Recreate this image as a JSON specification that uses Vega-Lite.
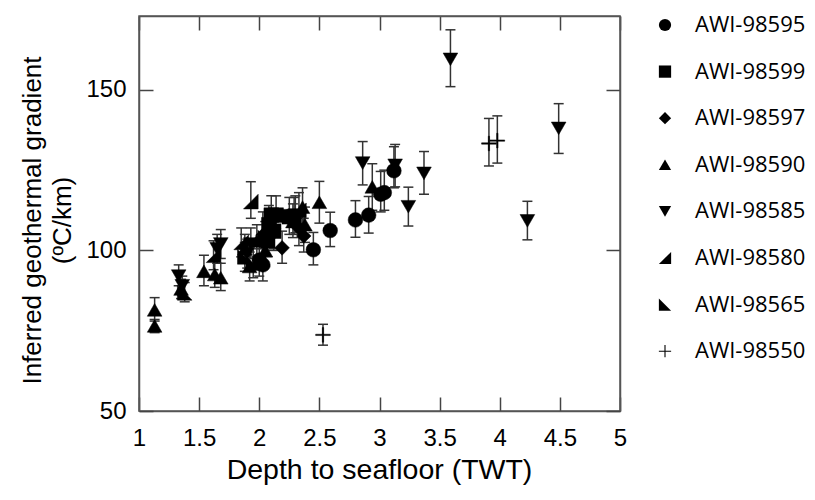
{
  "$schema": "https://vega.github.io/schema/vega-lite/v6.json",
  "width": 481,
  "height": 395,
  "autosize": {"type": "none"},
  "padding": {"left": 139, "top": 16, "right": 195, "bottom": 89},
  "background": "white",
  "config": {
    "view": {"stroke": "#555", "strokeWidth": 1.5},
    "axis": {
      "domainColor": "#555",
      "domainWidth": 1.5,
      "tickColor": "#444",
      "tickWidth": 1.5,
      "grid": false,
      "labelFont": "Liberation Sans",
      "labelFontSize": 24,
      "labelColor": "black",
      "titleFont": "Liberation Sans",
      "titleFontSize": 26,
      "titleFontWeight": "normal",
      "titleColor": "black"
    },
    "legend": {
      "labelFont": "Open Sans",
      "labelFontSize": 22,
      "labelColor": "black"
    }
  },
  "data": {
    "values": [
      {"well": "AWI-98595", "depth": 2.00, "gradient": 97, "lo": 92, "hi": 102},
      {"well": "AWI-98595", "depth": 2.03, "gradient": 95.5, "lo": 90.5, "hi": 100.5},
      {"well": "AWI-98595", "depth": 2.45, "gradient": 100.2, "lo": 95.5, "hi": 105.6},
      {"well": "AWI-98595", "depth": 2.59, "gradient": 106.2, "lo": 101.2, "hi": 111.9},
      {"well": "AWI-98595", "depth": 2.80, "gradient": 109.5, "lo": 104.1, "hi": 115.5},
      {"well": "AWI-98595", "depth": 2.91, "gradient": 111, "lo": 105.4, "hi": 116.8},
      {"well": "AWI-98595", "depth": 3.01, "gradient": 117.5, "lo": 112, "hi": 124.6},
      {"well": "AWI-98595", "depth": 3.04, "gradient": 118, "lo": 112.5, "hi": 125},
      {"well": "AWI-98595", "depth": 3.12, "gradient": 124.8, "lo": 119.5, "hi": 132.3},
      {"well": "AWI-98599", "depth": 2.08, "gradient": 108, "lo": 102.5, "hi": 114},
      {"well": "AWI-98599", "depth": 2.10, "gradient": 111, "lo": 105.5, "hi": 117},
      {"well": "AWI-98599", "depth": 2.14, "gradient": 111, "lo": 105, "hi": 117},
      {"well": "AWI-98599", "depth": 2.12, "gradient": 106, "lo": 100.5, "hi": 112},
      {"well": "AWI-98599", "depth": 2.07, "gradient": 103, "lo": 98, "hi": 108.5},
      {"well": "AWI-98599", "depth": 2.25, "gradient": 110.5, "lo": 105, "hi": 116.5},
      {"well": "AWI-98599", "depth": 2.29, "gradient": 110.5, "lo": 105, "hi": 116.5},
      {"well": "AWI-98597", "depth": 2.19, "gradient": 100.8, "lo": 96, "hi": 106},
      {"well": "AWI-98597", "depth": 2.37, "gradient": 104.5, "lo": 99.5, "hi": 110},
      {"well": "AWI-98597", "depth": 2.33, "gradient": 107, "lo": 101.5, "hi": 112.5},
      {"well": "AWI-98590", "depth": 1.13, "gradient": 81.5, "lo": 78, "hi": 85.3},
      {"well": "AWI-98590", "depth": 1.13, "gradient": 76.5, "lo": 74.4, "hi": 78.5},
      {"well": "AWI-98590", "depth": 1.35, "gradient": 88, "lo": 85, "hi": 91},
      {"well": "AWI-98590", "depth": 1.54, "gradient": 93.5, "lo": 89, "hi": 98.5},
      {"well": "AWI-98590", "depth": 1.63, "gradient": 92.5, "lo": 88.5, "hi": 97},
      {"well": "AWI-98590", "depth": 1.68, "gradient": 91.5, "lo": 87.5, "hi": 96},
      {"well": "AWI-98590", "depth": 1.88, "gradient": 100.5, "lo": 96, "hi": 105},
      {"well": "AWI-98590", "depth": 1.92, "gradient": 95, "lo": 90.5, "hi": 99.5},
      {"well": "AWI-98590", "depth": 1.98, "gradient": 103, "lo": 98, "hi": 108},
      {"well": "AWI-98590", "depth": 2.05, "gradient": 100, "lo": 95, "hi": 105},
      {"well": "AWI-98590", "depth": 2.28, "gradient": 109, "lo": 104, "hi": 114.5},
      {"well": "AWI-98590", "depth": 2.36, "gradient": 113.5, "lo": 108, "hi": 119.5},
      {"well": "AWI-98590", "depth": 2.38, "gradient": 108, "lo": 102.5, "hi": 113.5},
      {"well": "AWI-98590", "depth": 2.50, "gradient": 115, "lo": 108.5, "hi": 121.5},
      {"well": "AWI-98590", "depth": 2.94, "gradient": 119.8, "lo": 112.5, "hi": 127},
      {"well": "AWI-98585", "depth": 1.33, "gradient": 92, "lo": 89, "hi": 95.5},
      {"well": "AWI-98585", "depth": 1.36, "gradient": 89, "lo": 86, "hi": 92},
      {"well": "AWI-98585", "depth": 1.65, "gradient": 100.5, "lo": 96, "hi": 105},
      {"well": "AWI-98585", "depth": 1.68, "gradient": 102, "lo": 97.5, "hi": 106.5},
      {"well": "AWI-98585", "depth": 1.90, "gradient": 99, "lo": 94.5, "hi": 103.5},
      {"well": "AWI-98585", "depth": 1.93, "gradient": 102, "lo": 97.5, "hi": 107},
      {"well": "AWI-98585", "depth": 2.12, "gradient": 105, "lo": 100, "hi": 110},
      {"well": "AWI-98585", "depth": 2.30, "gradient": 111, "lo": 105.5, "hi": 117},
      {"well": "AWI-98585", "depth": 2.86, "gradient": 127.2, "lo": 120.4, "hi": 133.9},
      {"well": "AWI-98585", "depth": 3.13, "gradient": 126.5, "lo": 119.8, "hi": 133},
      {"well": "AWI-98585", "depth": 3.24, "gradient": 113.6, "lo": 107.6, "hi": 119.7},
      {"well": "AWI-98585", "depth": 3.37, "gradient": 124, "lo": 117.5, "hi": 130.8},
      {"well": "AWI-98585", "depth": 3.59, "gradient": 159.5, "lo": 151, "hi": 168.7},
      {"well": "AWI-98585", "depth": 4.23, "gradient": 109.2, "lo": 103.3, "hi": 115.3},
      {"well": "AWI-98585", "depth": 4.49, "gradient": 138, "lo": 130.2, "hi": 145.7},
      {"well": "AWI-98580", "depth": 1.93, "gradient": 115.2, "lo": 110, "hi": 121.4},
      {"well": "AWI-98580", "depth": 1.62, "gradient": 98.5, "lo": 94, "hi": 103},
      {"well": "AWI-98580", "depth": 1.85, "gradient": 102.5, "lo": 98, "hi": 107},
      {"well": "AWI-98580", "depth": 2.33, "gradient": 112.5, "lo": 107, "hi": 118},
      {"well": "AWI-98580", "depth": 2.03, "gradient": 107, "lo": 102, "hi": 112},
      {"well": "AWI-98565", "depth": 1.38, "gradient": 86.8, "lo": 84, "hi": 90},
      {"well": "AWI-98565", "depth": 1.95, "gradient": 96, "lo": 91.5, "hi": 100.5},
      {"well": "AWI-98565", "depth": 2.05, "gradient": 104, "lo": 99, "hi": 109},
      {"well": "AWI-98565", "depth": 1.88, "gradient": 98, "lo": 93.5, "hi": 102.5},
      {"well": "AWI-98550", "depth": 2.53, "gradient": 73.7, "lo": 70.5, "hi": 77},
      {"well": "AWI-98550", "depth": 3.91, "gradient": 133.3, "lo": 126.3, "hi": 141.1},
      {"well": "AWI-98550", "depth": 3.98, "gradient": 134.2, "lo": 127.2, "hi": 141.9}
    ]
  },
  "resolve": {"axis": {"x": "independent", "y": "independent"}},
  "layer": [
    {
      "mark": {"type": "rule", "color": "#333", "strokeWidth": 1.5},
      "encoding": {
        "x": {
          "field": "depth", "type": "quantitative",
          "scale": {"domain": [1, 5], "nice": false, "zero": false},
          "axis": {
            "orient": "bottom", "values": [1, 1.5, 2, 2.5, 3, 3.5, 4, 4.5, 5],
            "format": "~g", "tickSize": -14, "labelPadding": 29,
            "labelFlush": false, "labelOverlap": false,
            "title": "Depth to seafloor (TWT)",
            "titleFontSize": 28.5,
            "titleX": 240, "titleY": 73, "titleBaseline": "bottom", "titleAlign": "center"
          }
        },
        "y": {
          "field": "lo", "type": "quantitative",
          "scale": {"domain": [50, 173], "nice": false, "zero": false},
          "axis": {
            "orient": "left", "values": [50, 100, 150],
            "tickSize": -14, "labelPadding": 27,
            "labelFlush": false, "labelOverlap": false,
            "title": ["Inferred geothermal gradient", "(ºC/km)"],
            "titleLineHeight": 30,
            "titleX": -94, "titleY": 204, "titleAngle": -90,
            "titleBaseline": "bottom", "titleAlign": "center"
          }
        },
        "y2": {"field": "hi"}
      }
    },
    {
      "mark": {"type": "tick", "orient": "horizontal", "size": 10, "thickness": 1.5, "color": "#333", "opacity": 1},
      "encoding": {
        "x": {"field": "depth", "type": "quantitative", "axis": null},
        "y": {"field": "lo", "type": "quantitative", "axis": null}
      }
    },
    {
      "mark": {"type": "tick", "orient": "horizontal", "size": 10, "thickness": 1.5, "color": "#333", "opacity": 1},
      "encoding": {
        "x": {"field": "depth", "type": "quantitative", "axis": null},
        "y": {"field": "hi", "type": "quantitative", "axis": null}
      }
    },
    {
      "mark": {"type": "point", "filled": true, "size": 215, "color": "black", "stroke": "black", "strokeWidth": 0.5, "opacity": 1},
      "encoding": {
        "x": {"field": "depth", "type": "quantitative", "axis": null},
        "y": {"field": "gradient", "type": "quantitative", "axis": null},
        "shape": {
          "field": "well", "type": "nominal",
          "scale": {
            "domain": ["AWI-98595", "AWI-98599", "AWI-98597", "AWI-98590", "AWI-98585", "AWI-98580", "AWI-98565", "AWI-98550"],
            "range": ["circle", "square", "diamond", "triangle-up", "triangle-down", "M1,-1L1,1L-1,1Z", "M-1,-1L-1,1L1,1Z", "M-1,-0.09L-0.09,-0.09L-0.09,-1L0.09,-1L0.09,-0.09L1,-0.09L1,0.09L0.09,0.09L0.09,1L-0.09,1L-0.09,0.09L-1,0.09Z"]
          },
          "legend": {
            "title": null,
            "orient": "none",
            "legendX": 515,
            "legendY": -2,
            "padding": 0,
            "symbolSize": 150,
            "symbolFillColor": "black",
            "symbolStrokeColor": "black",
            "symbolStrokeWidth": 1,
            "symbolOpacity": 1,
            "labelOffset": 19,
            "rowPadding": 24.6,
            "encode": {
              "symbols": {
                "update": {
                  "stroke": {"value": "black"},
                  "strokeWidth": {"value": 1},
                  "fill": {"value": "black"}
                }
              }
            }
          }
        }
      }
    },
    {
      "mark": {"type": "point", "opacity": 0},
      "encoding": {
        "x": {
          "field": "depth", "type": "quantitative",
          "axis": {"orient": "top", "values": [1, 1.5, 2, 2.5, 3, 3.5, 4, 4.5, 5], "tickSize": -14, "labels": false, "title": null}
        },
        "y": {
          "field": "gradient", "type": "quantitative",
          "axis": {"orient": "right", "values": [50, 100, 150], "tickSize": -14, "labels": false, "title": null}
        }
      }
    }
  ]
}
